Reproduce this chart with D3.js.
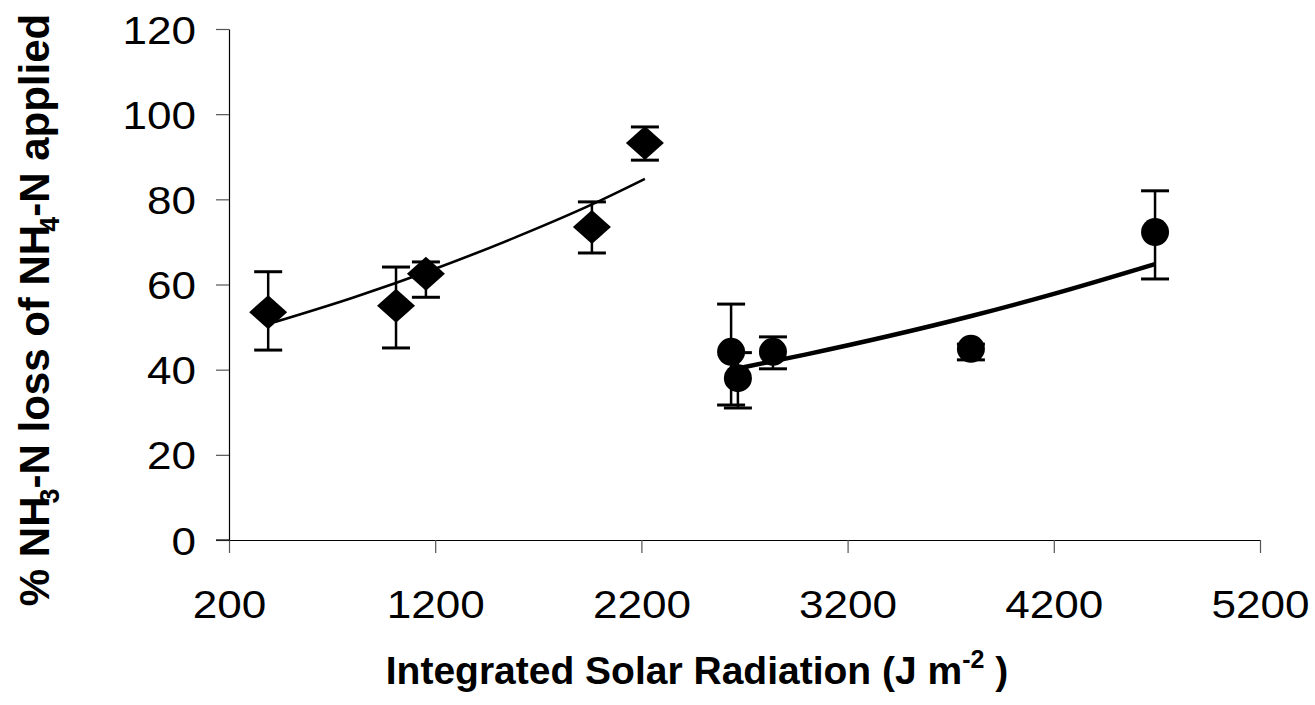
<!DOCTYPE html>
<html>
<head>
<meta charset="utf-8">
<script src="https://cdn.jsdelivr.net/npm/d3@7"></script>
<style>
  html, body { margin: 0; padding: 0; background: #fff; }
  svg { display: block; font-family: "Liberation Sans", Arial, sans-serif; }
</style>
</head>
<body>
<svg id="chart" width="1315" height="705"></svg>
<script>
// Tick labels
const xTicks = [200, 1200, 2200, 3200, 4200, 5200];
const yTicks = [0, 20, 40, 60, 80, 100, 120];

// Diamond series: radiation, % loss, error bar low, error bar high
const diamondX   = [390, 1010, 1155, 1960, 2217];
const diamondY   = [53.5, 55.0, 62.5, 73.5, 93.2];
const diamondLo  = [44.6, 45.1, 57.0, 67.4, 89.2];
const diamondHi  = [63.0, 64.1, 65.3, 79.4, 97.0];

// Circle series
const circleX    = [2635, 2668, 2838, 3798, 4691];
const circleY    = [44.2, 38.0, 44.2, 44.9, 72.3];
const circleLo   = [31.7, 31.0, 40.2, 42.3, 61.3];
const circleHi   = [55.4, 44.0, 47.7, 46.0, 82.0];

// Fitted trend lines
const trend1X = [423, 800, 1200, 1600, 2000, 2217];
const trend1Y = [51.2, 56.9, 63.7, 71.3, 79.7, 84.8];
const trend2X = [2678, 3000, 3400, 3800, 4200, 4691];
const trend2Y = [40.4, 43.6, 47.9, 52.6, 57.8, 64.8];

const svg = d3.select("#chart");
const plotLeft = 229, plotRight = 1260, plotTop = 29, plotBottom = 540;

const x = d3.scaleLinear().domain([200, 5200]).range([plotLeft, plotRight]);
const y = d3.scaleLinear().domain([0, 120]).range([plotBottom, plotTop]);

// Axes
const xAxis = svg.append("g").attr("transform", `translate(0,${plotBottom})`)
  .call(d3.axisBottom(x).tickValues(xTicks).tickFormat(d3.format("d"))
    .tickSize(13).tickPadding(37).tickSizeOuter(0));
const yAxis = svg.append("g").attr("transform", `translate(${plotLeft},0)`)
  .call(d3.axisLeft(y).tickValues(yTicks).tickFormat(d3.format("d"))
    .tickSize(13).tickPadding(20).tickSizeOuter(0));
[xAxis, yAxis].forEach(g => {
  g.select(".domain").attr("stroke", "#000").attr("stroke-width", 1.2);
  g.selectAll(".tick line").attr("stroke", "#555").attr("stroke-width", 1.2);
  g.selectAll(".tick text").attr("fill", "#000").style("font-size", "39px")
    .style("font-family", "'Liberation Sans', Arial, sans-serif")
    .attr("textLength", d => String(d).length * 24.5)
    .attr("lengthAdjust", "spacingAndGlyphs");
});
// the x domain line starts under the left y tick
svg.append("line").attr("x1", plotLeft - 13).attr("x2", plotLeft).attr("y1", plotBottom).attr("y2", plotBottom)
  .attr("stroke", "#000").attr("stroke-width", 1.2);
yAxis.selectAll(".tick text").attr("dy", "0.36em");

// Trend lines
const line = d3.line().x(d => x(d[0])).y(d => y(d[1])).curve(d3.curveMonotoneX);
svg.append("path").datum(d3.zip(trend1X, trend1Y)).attr("d", line)
  .attr("fill", "none").attr("stroke", "#000").attr("stroke-width", 2.6);
svg.append("path").datum(d3.zip(trend2X, trend2Y)).attr("d", line)
  .attr("fill", "none").attr("stroke", "#000").attr("stroke-width", 4.5);

// Error bars
function errorBars(xs, lo, hi) {
  const g = svg.append("g").attr("stroke", "#000");
  xs.forEach((v, i) => {
    g.append("line").attr("x1", x(v)).attr("x2", x(v)).attr("y1", y(lo[i])).attr("y2", y(hi[i])).attr("stroke-width", 2.5);
    [lo[i], hi[i]].forEach(e => {
      g.append("line").attr("x1", x(v) - 14).attr("x2", x(v) + 14).attr("y1", y(e)).attr("y2", y(e)).attr("stroke-width", 3);
    });
  });
}
errorBars(diamondX, diamondLo, diamondHi);
errorBars(circleX, circleLo, circleHi);

// Markers
svg.append("g").selectAll("path").data(d3.zip(diamondX, diamondY)).join("path")
  .attr("d", d => {
    const cx = x(d[0]), cy = y(d[1]), w = 19, h = 17;
    return `M${cx},${cy - h}L${cx + w},${cy}L${cx},${cy + h}L${cx - w},${cy}Z`;
  })
  .attr("fill", "#000");
svg.append("g").selectAll("circle").data(d3.zip(circleX, circleY)).join("circle")
  .attr("cx", d => x(d[0])).attr("cy", d => y(d[1])).attr("r", 14).attr("fill", "#000");

// Axis titles
const xt = svg.append("text").attr("x", 697).attr("y", 684).attr("text-anchor", "middle")
  .style("font-size", "39px").style("font-weight", "bold");
xt.append("tspan").text("Integrated Solar Radiation (J m");
xt.append("tspan").attr("dy", -16).style("font-size", "25px").text("-2");
xt.append("tspan").attr("dy", 16).text(" )");

const yt = svg.append("text").attr("transform", "translate(49,310) rotate(-90)")
  .attr("text-anchor", "middle").style("font-size", "42px").style("font-weight", "bold");
yt.append("tspan").text("% NH");
yt.append("tspan").attr("dy", 10).attr("dx", -7).style("font-size", "27px").text("3");
yt.append("tspan").attr("dy", -10).text("-N loss of NH");
yt.append("tspan").attr("dy", 10).attr("dx", -7).style("font-size", "27px").text("4");
yt.append("tspan").attr("dy", -10).text("-N applied");
</script>
</body>
</html>
